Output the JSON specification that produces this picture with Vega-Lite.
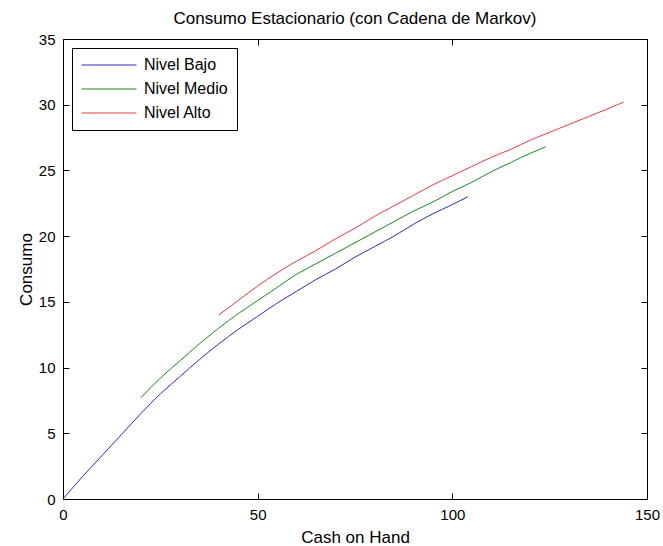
{
  "$schema": "https://vega.github.io/schema/vega-lite/v6.json",
  "width": 584,
  "height": 460,
  "autosize": {"type": "none"},
  "padding": {"left": 63, "top": 39, "right": 16, "bottom": 47},
  "background": "white",
  "title": {"text": "Consumo Estacionario (con Cadena de Markov)", "fontSize": 17, "fontWeight": "normal", "font": "Liberation Sans, Arial, sans-serif", "color": "#000", "offset": 4},
  "data": {"values": [
    {"serie": "Nivel Bajo", "x": 0, "y": 0},
    {"serie": "Nivel Bajo", "x": 5, "y": 1.7},
    {"serie": "Nivel Bajo", "x": 10, "y": 3.3},
    {"serie": "Nivel Bajo", "x": 15, "y": 4.9},
    {"serie": "Nivel Bajo", "x": 20, "y": 6.5},
    {"serie": "Nivel Bajo", "x": 25, "y": 8.0},
    {"serie": "Nivel Bajo", "x": 30, "y": 9.3},
    {"serie": "Nivel Bajo", "x": 35, "y": 10.6},
    {"serie": "Nivel Bajo", "x": 40, "y": 11.8},
    {"serie": "Nivel Bajo", "x": 45, "y": 12.9},
    {"serie": "Nivel Bajo", "x": 50, "y": 13.9},
    {"serie": "Nivel Bajo", "x": 55, "y": 14.9},
    {"serie": "Nivel Bajo", "x": 60, "y": 15.8},
    {"serie": "Nivel Bajo", "x": 65, "y": 16.7},
    {"serie": "Nivel Bajo", "x": 70, "y": 17.5},
    {"serie": "Nivel Bajo", "x": 75, "y": 18.4},
    {"serie": "Nivel Bajo", "x": 80, "y": 19.2},
    {"serie": "Nivel Bajo", "x": 85, "y": 20.0},
    {"serie": "Nivel Bajo", "x": 90, "y": 20.9},
    {"serie": "Nivel Bajo", "x": 95, "y": 21.7},
    {"serie": "Nivel Bajo", "x": 100, "y": 22.4},
    {"serie": "Nivel Bajo", "x": 104, "y": 23.0},
    {"serie": "Nivel Medio", "x": 20, "y": 7.7},
    {"serie": "Nivel Medio", "x": 25, "y": 9.2},
    {"serie": "Nivel Medio", "x": 30, "y": 10.5},
    {"serie": "Nivel Medio", "x": 35, "y": 11.8},
    {"serie": "Nivel Medio", "x": 40, "y": 13.0},
    {"serie": "Nivel Medio", "x": 45, "y": 14.1},
    {"serie": "Nivel Medio", "x": 50, "y": 15.1},
    {"serie": "Nivel Medio", "x": 55, "y": 16.1},
    {"serie": "Nivel Medio", "x": 60, "y": 17.1},
    {"serie": "Nivel Medio", "x": 65, "y": 17.9},
    {"serie": "Nivel Medio", "x": 70, "y": 18.7},
    {"serie": "Nivel Medio", "x": 75, "y": 19.5},
    {"serie": "Nivel Medio", "x": 80, "y": 20.3},
    {"serie": "Nivel Medio", "x": 85, "y": 21.1},
    {"serie": "Nivel Medio", "x": 90, "y": 21.9},
    {"serie": "Nivel Medio", "x": 95, "y": 22.6},
    {"serie": "Nivel Medio", "x": 100, "y": 23.4},
    {"serie": "Nivel Medio", "x": 105, "y": 24.1},
    {"serie": "Nivel Medio", "x": 110, "y": 24.9},
    {"serie": "Nivel Medio", "x": 115, "y": 25.6},
    {"serie": "Nivel Medio", "x": 120, "y": 26.3},
    {"serie": "Nivel Medio", "x": 124, "y": 26.8},
    {"serie": "Nivel Alto", "x": 40, "y": 14.0},
    {"serie": "Nivel Alto", "x": 45, "y": 15.1},
    {"serie": "Nivel Alto", "x": 50, "y": 16.2},
    {"serie": "Nivel Alto", "x": 55, "y": 17.2},
    {"serie": "Nivel Alto", "x": 60, "y": 18.1},
    {"serie": "Nivel Alto", "x": 65, "y": 18.9},
    {"serie": "Nivel Alto", "x": 70, "y": 19.8},
    {"serie": "Nivel Alto", "x": 75, "y": 20.6},
    {"serie": "Nivel Alto", "x": 80, "y": 21.5},
    {"serie": "Nivel Alto", "x": 85, "y": 22.3},
    {"serie": "Nivel Alto", "x": 90, "y": 23.1},
    {"serie": "Nivel Alto", "x": 95, "y": 23.9},
    {"serie": "Nivel Alto", "x": 100, "y": 24.6},
    {"serie": "Nivel Alto", "x": 105, "y": 25.3},
    {"serie": "Nivel Alto", "x": 110, "y": 26.0},
    {"serie": "Nivel Alto", "x": 115, "y": 26.6},
    {"serie": "Nivel Alto", "x": 120, "y": 27.3},
    {"serie": "Nivel Alto", "x": 125, "y": 27.9},
    {"serie": "Nivel Alto", "x": 130, "y": 28.5},
    {"serie": "Nivel Alto", "x": 135, "y": 29.1},
    {"serie": "Nivel Alto", "x": 140, "y": 29.7},
    {"serie": "Nivel Alto", "x": 144, "y": 30.2}
  ]},
  "config": {
    "view": {"stroke": "#000", "strokeWidth": 1},
    "axis": {"grid": false, "domainColor": "#000", "tickColor": "#000", "labelColor": "#000", "titleColor": "#000", "labelFont": "Liberation Sans, Arial, sans-serif", "titleFont": "Liberation Sans, Arial, sans-serif", "labelFontSize": 15, "titleFontSize": 17, "titleFontWeight": "normal", "tickSize": -6, "tickWidth": 1, "labelPadding": 14, "labelFlush": false}
  },
  "layer": [
    {
      "mark": {"type": "line", "strokeWidth": 1, "interpolate": "monotone"},
      "encoding": {
        "x": {"field": "x", "type": "quantitative", "scale": {"domain": [0, 150], "nice": false}, "axis": {"values": [0, 50, 100, 150], "title": "Cash on Hand", "titlePadding": 7}},
        "y": {"field": "y", "type": "quantitative", "scale": {"domain": [0, 35], "nice": false}, "axis": {"values": [0, 5, 10, 15, 20, 25, 30, 35], "title": "Consumo", "titlePadding": 3}},
        "color": {"field": "serie", "type": "nominal", "sort": ["Nivel Bajo", "Nivel Medio", "Nivel Alto"],
          "scale": {"domain": ["Nivel Bajo", "Nivel Medio", "Nivel Alto"], "range": ["#2b2bb5", "#1c861c", "#e23c3c"]},
          "legend": {"orient": "none", "legendX": 9, "legendY": 9, "title": null, "strokeColor": "#000", "fillColor": "#fff", "padding": 9, "symbolType": "M-5,0H5", "symbolSize": 121, "symbolStrokeWidth": 1, "symbolOffset": 20, "labelOffset": 27, "labelFontSize": 16, "labelFont": "Liberation Sans, Arial, sans-serif", "labelColor": "#000", "rowPadding": 8, "cornerRadius": 0}}
      }
    },
    {
      "mark": {"type": "point", "opacity": 0},
      "encoding": {
        "x": {"field": "x", "type": "quantitative", "axis": {"orient": "top", "values": [0, 50, 100, 150], "labels": false, "title": null}},
        "y": {"field": "y", "type": "quantitative", "axis": {"orient": "right", "values": [0, 5, 10, 15, 20, 25, 30, 35], "labels": false, "title": null}}
      }
    }
  ],
  "resolve": {"axis": {"x": "independent", "y": "independent"}}
}
